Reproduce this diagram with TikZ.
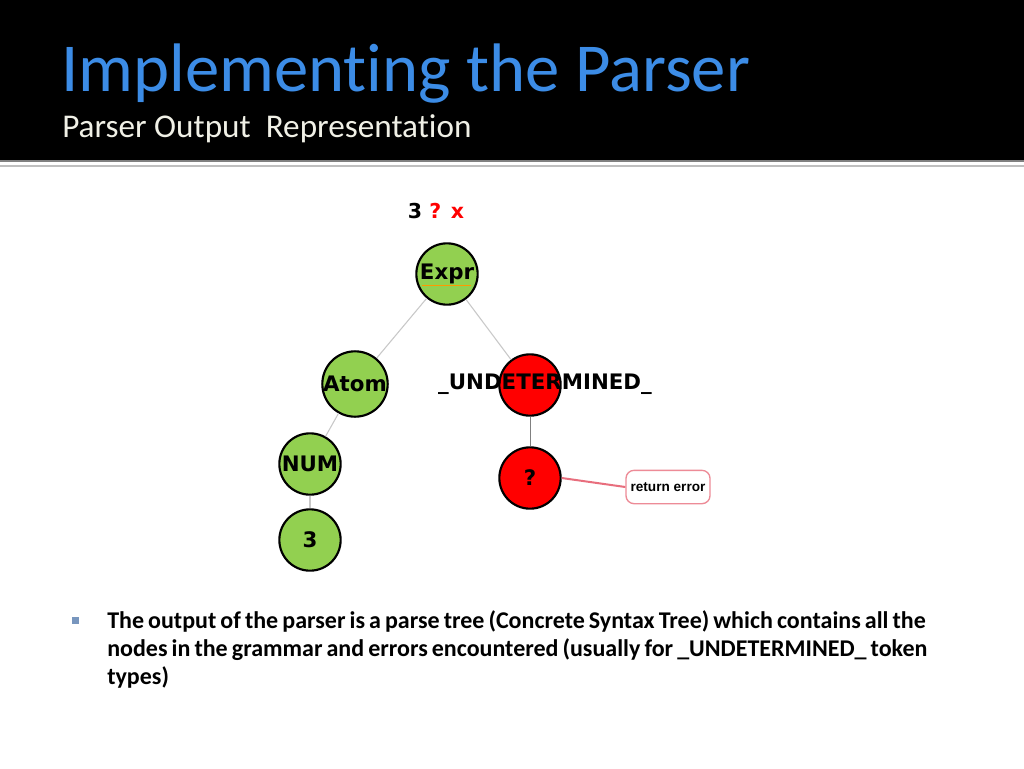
\documentclass[tikz,border=0pt]{standalone}
\usepackage{fontspec}
\setmainfont[Ligatures=NoCommon]{Carlito}
\newfontfamily\bodyf[Ligatures=NoCommon,WordSpace=0.75]{Carlito}
\newfontfamily\verd{DejaVu Sans}
\newfontfamily\arialf{Liberation Sans}
\definecolor{titleblue}{RGB}{60,140,230}
\definecolor{subwhite}{RGB}{240,240,230}
\definecolor{leafgreen}{RGB}{146,208,80}
\definecolor{errred}{RGB}{255,0,0}
\definecolor{edgegray}{RGB}{200,200,200}
\definecolor{pinkline}{RGB}{232,110,125}
\definecolor{bulletblue}{RGB}{120,150,190}
\tikzset{
  treenode/.style={circle, draw=black, line width=1.6pt, minimum size=46pt, inner sep=0pt,
     font=\verd\bfseries\fontsize{16}{18}\selectfont},
  greennode/.style={treenode, fill=leafgreen},
  rednode/.style={treenode, fill=errred},
  treeedge/.style={draw=edgegray, line width=0.8pt},
  noteedge/.style={draw=pinkline, line width=1.5pt},
  notebox/.style={draw=pinkline!80, line width=1pt, rounded corners=6pt, fill=white,
     minimum width=63pt, minimum height=25pt, inner sep=2pt, font=\arialf\bfseries\fontsize{10.2}{12}\selectfont},
}
\begin{document}
\begin{tikzpicture}[x=0.75pt,y=-0.75pt]
\useasboundingbox (0,0) rectangle (1024,768);
\fill[white] (0,0) rectangle (1024,768);
% header
\fill[black] (0,0) rectangle (1024,160);
\draw[gray, line width=1.2pt] (0,161) -- (1024,161);
\draw[black!25, line width=1.5pt] (0,166) -- (1024,166);
\node[anchor=base west, inner sep=0pt, text=titleblue, font=\fontsize{51.5}{55}\selectfont] (title) at (61,91) {Implementing the Parser};
\node[anchor=base west, inner sep=0pt, text=subwhite, font=\fontsize{24.9}{28}\selectfont] (subtitle) at (62,137) {Parser Output\ \ Representation};
% expression
\node[font=\verd\bfseries\fontsize{15.4}{17}\selectfont, inner sep=0pt] (expr) at (436,211) {3 \textcolor{errred}{?} \textcolor{errred}{x}};
% tree
\node[greennode] (e) at (447,274) {Expr};
\draw[orange!80!yellow, line width=0.6pt] (422,285) -- (471,285);
\node[greennode] (a) at (355,384) {Atom};
\node[rednode] (u) at (530,385) {};
\node[font=\verd\bfseries\fontsize{16}{18}\selectfont, inner sep=0pt] (ulabel) at (545,384) {\_UNDETERMINED\_};
\node[greennode] (n) at (310,464) {NUM};
\node[greennode] (t) at (310,540) {3};
\node[rednode] (q) at (530,478) {?};
\node[notebox] (err) at (668,487) {return error};
\draw[treeedge] (e) -- (a);
\draw[treeedge] (e) -- (u);
\draw[treeedge] (a) -- (n);
\draw[treeedge] (n) -- (t);
\draw[draw=gray, line width=0.7pt] (u) -- (q);
\draw[noteedge] (q.east) -- (err.west);
% bullet text
\fill[bulletblue] (72,617) rectangle (79,624) ;
\node[anchor=north west, inner sep=0pt, align=left, font=\bodyf\bfseries\fontsize{18}{21}\selectfont] (body) at (107,610)
{The output of the parser is a parse tree (Concrete Syntax Tree) which contains all the\\
nodes in the grammar and errors encountered (usually for \_UNDETERMINED\_ token\\
types)};
\end{tikzpicture}
\end{document}
